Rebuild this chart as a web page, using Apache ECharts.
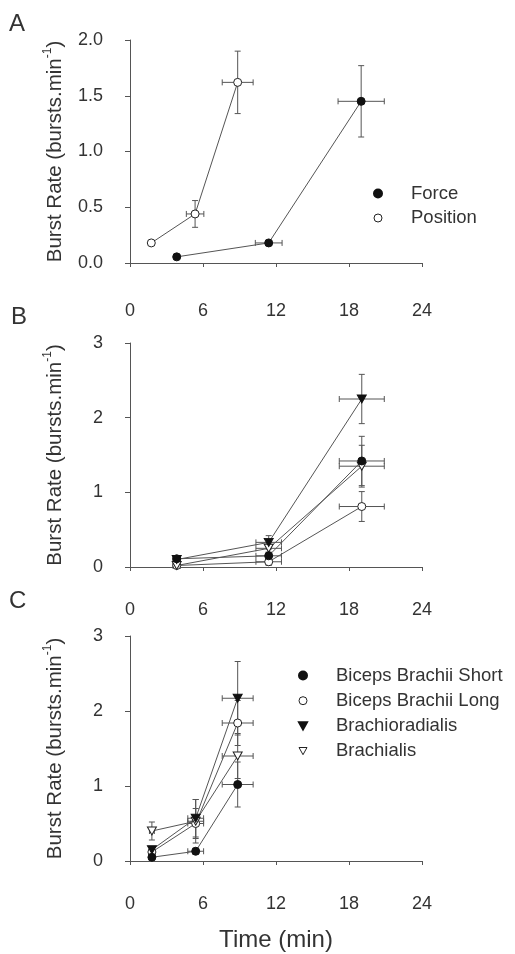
<!DOCTYPE html>
<html>
<head>
<meta charset="utf-8">
<script src="https://cdn.jsdelivr.net/npm/echarts@6/dist/echarts.min.js"></script>
<style>
html,body{margin:0;padding:0;background:#fff;}
#chart{width:515px;height:954px;}
</style>
</head>
<body>
<div id="chart"></div>
<script>
// ---------- DATA ----------
const timeTicks = [0, 6, 12, 18, 24];
const panelLabels = ['A', 'B', 'C'];

// Panel A
const forceTime = [3.84, 11.4, 19.0];
const forceTimeErr = [0, 1.1, 1.9];
const forceRate = [0.055, 0.18, 1.45];
const forceRateErr = [0, 0.02, 0.32];
const positionTime = [1.75, 5.35, 8.85];
const positionTimeErr = [0, 0.72, 1.27];
const positionRate = [0.18, 0.44, 1.62];
const positionRateErr = [0.02, 0.12, 0.28];

// Panel B (force task)
const bTime = [3.84, 11.4, 19.05];
const bTimeErr = [0.3, 1.05, 1.85];
const bShort = [0.11, 0.15, 1.42];
const bShortErr = [0.02, 0.05, 0.33];
const bLong = [0.02, 0.07, 0.81];
const bLongErr = [0.01, 0.05, 0.2];
const bBrachiorad = [0.10, 0.33, 2.25];
const bBrachioradErr = [0.02, 0.09, 0.33];
const bBrachialis = [0.02, 0.25, 1.35];
const bBrachialisErr = [0.01, 0.07, 0.28];

// Panel C (position task)
const cTime = [1.8, 5.4, 8.85];
const cTimeErr = [0.2, 0.65, 1.27];
const cShort = [0.05, 0.13, 1.02];
const cShortErr = [0.03, 0.04, 0.3];
const cLong = [0.12, 0.5, 1.84];
const cLongErr = [0.04, 0.2, 0.3];
const cBrachiorad = [0.15, 0.57, 2.17];
const cBrachioradErr = [0.04, 0.25, 0.49];
const cBrachialis = [0.40, 0.53, 1.40];
const cBrachialisErr = [0.12, 0.29, 0.3];

const muscleNames = ['Biceps Brachii Short', 'Biceps Brachii Long', 'Brachioradialis', 'Brachialis'];

// ---------- STYLE ----------
const FONT = 'Liberation Sans, Arial, Helvetica, sans-serif';
const TXT = '#333';
const AX = '#555';
const LINE = '#555';
const DOWN_TRI = 'path://M0,0 L10,0 L5,9 Z';

const grids = [
  {left: 130, width: 292, top: 40, height: 223},
  {left: 130, width: 292, top: 343, height: 224},
  {left: 130, width: 292, top: 636, height: 225}
];
const xOffsets = [20, 15, 15];

function pairs(xs, ys) { return xs.map((x, i) => [x, ys[i]]); }
function errData(xs, xe, ys, ye) { return xs.map((x, i) => [x, ys[i], xe[i], ye[i]]); }

function errRender(params, api) {
  const x = api.value(0), y = api.value(1), xe = api.value(2), ye = api.value(3);
  const c = api.coord([x, y]);
  const cap = 3;
  const st = {stroke: LINE, lineWidth: 1, fill: null};
  const kids = [];
  const ln = (x1, y1, x2, y2) => ({type: 'line', shape: {x1, y1, x2, y2}, style: st});
  if (ye > 0) {
    const t = api.coord([x, y + ye]), b = api.coord([x, y - ye]);
    kids.push(ln(c[0], t[1], c[0], b[1]));
    kids.push(ln(c[0] - cap, t[1], c[0] + cap, t[1]));
    kids.push(ln(c[0] - cap, b[1], c[0] + cap, b[1]));
  }
  if (xe > 0) {
    const l = api.coord([x - xe, y]), r = api.coord([x + xe, y]);
    kids.push(ln(l[0], c[1], r[0], c[1]));
    kids.push(ln(l[0], c[1] - cap, l[0], c[1] + cap));
    kids.push(ln(r[0], c[1] - cap, r[0], c[1] + cap));
  }
  return {type: 'group', children: kids};
}

const styles = {
  filledCircle: {symbol: 'circle', symbolSize: 8, itemStyle: {color: '#111', borderColor: '#111', borderWidth: 1}},
  openCircle: {symbol: 'circle', symbolSize: 8, itemStyle: {color: '#fff', borderColor: '#222', borderWidth: 1}},
  filledTri: {symbol: DOWN_TRI, symbolSize: [9, 8], itemStyle: {color: '#111', borderColor: '#111', borderWidth: 1}},
  openTri: {symbol: DOWN_TRI, symbolSize: [9, 8], itemStyle: {color: '#fff', borderColor: '#222', borderWidth: 1}}
};

const series = [];
function addSeries(name, gi, xs, xe, ys, ye, st) {
  series.push({
    type: 'custom', name: name + ' err', xAxisIndex: gi, yAxisIndex: gi,
    renderItem: errRender, data: errData(xs, xe, ys, ye), z: 1, silent: true, clip: false
  });
  series.push(Object.assign({
    type: 'line', name: name, xAxisIndex: gi, yAxisIndex: gi,
    data: pairs(xs, ys), z: 3, showAllSymbol: true,
    lineStyle: {color: LINE, width: 1}, emphasis: {disabled: true}
  }, JSON.parse(JSON.stringify(st))));
}

addSeries('Force', 0, forceTime, forceTimeErr, forceRate, forceRateErr, styles.filledCircle);
addSeries('Position', 0, positionTime, positionTimeErr, positionRate, positionRateErr, styles.openCircle);

addSeries(muscleNames[1], 1, bTime, bTimeErr, bLong, bLongErr, styles.openCircle);
addSeries(muscleNames[3], 1, bTime, bTimeErr, bBrachialis, bBrachialisErr, styles.openTri);
addSeries(muscleNames[0], 1, bTime, bTimeErr, bShort, bShortErr, styles.filledCircle);
addSeries(muscleNames[2], 1, bTime, bTimeErr, bBrachiorad, bBrachioradErr, styles.filledTri);

addSeries(muscleNames[1], 2, cTime, cTimeErr, cLong, cLongErr, styles.openCircle);
addSeries(muscleNames[3], 2, cTime, cTimeErr, cBrachialis, cBrachialisErr, styles.openTri);
addSeries(muscleNames[0], 2, cTime, cTimeErr, cShort, cShortErr, styles.filledCircle);
addSeries(muscleNames[2], 2, cTime, cTimeErr, cBrachiorad, cBrachioradErr, styles.filledTri);

const yTitle = '{a|Burst Rate (bursts.min}{s|-1}{a|)}';
const yRich = {
  a: {fontSize: 20.5, fontFamily: FONT, color: TXT, lineHeight: 24, verticalAlign: 'bottom'},
  s: {fontSize: 12, fontFamily: FONT, color: TXT, lineHeight: 24, verticalAlign: 'top', padding: [0, 0, 8, 0]}
};

const yMax = [2, 3, 3];
const yInt = [0.5, 1, 1];

const xAxes = grids.map((g, i) => ({
  type: 'value', gridIndex: i, min: 0, max: 24, interval: 6, offset: xOffsets[i],
  axisLine: {show: true, lineStyle: {color: AX, width: 1}},
  axisTick: {show: true, length: 4, lineStyle: {color: AX}},
  splitLine: {show: false},
  axisLabel: {fontSize: 18, fontFamily: FONT, color: TXT, margin: 19},
  name: i === 2 ? 'Time (min)' : '', nameLocation: 'middle', nameGap: 52,
  nameTextStyle: {fontSize: 24, fontFamily: FONT, color: TXT}
}));

const yAxes = grids.map((g, i) => ({
  type: 'value', gridIndex: i, min: 0, max: yMax[i], interval: yInt[i], offset: 12,
  axisLine: {show: true, lineStyle: {color: AX, width: 1}},
  axisTick: {show: true, length: 5, lineStyle: {color: AX}},
  splitLine: {show: false},
  axisLabel: {fontSize: 18, fontFamily: FONT, color: TXT, margin: 15,
    formatter: v => i === 0 ? v.toFixed(1) : String(v)},
  name: yTitle, nameLocation: 'middle', nameGap: 52, nameRotate: 90,
  nameTextStyle: {rich: yRich}
}));

const legendText = {fontSize: 18.5, fontFamily: FONT, color: TXT, padding: [0, 0, 0, 24]};
const legends = [
  {
    left: 373, top: 184, padding: 0, orient: 'vertical', itemWidth: 8, itemHeight: 8, itemGap: 5.5,
    textStyle: legendText, selectedMode: false,
    data: [
      {name: 'Force', icon: 'circle', itemStyle: {color: '#111', borderColor: '#111'}},
      {name: 'Position', icon: 'circle', itemStyle: {color: '#fff', borderColor: '#222', borderWidth: 1}}
    ]
  },
  {
    left: 298, top: 666, padding: 0, orient: 'vertical', itemWidth: 8, itemHeight: 8, itemGap: 6.2,
    textStyle: legendText, selectedMode: false,
    data: [
      {name: muscleNames[0], icon: 'circle', itemStyle: {color: '#111', borderColor: '#111'}},
      {name: muscleNames[1], icon: 'circle', itemStyle: {color: '#fff', borderColor: '#222', borderWidth: 1}},
      {name: muscleNames[2], icon: DOWN_TRI, itemStyle: {color: '#111', borderColor: '#111'}},
      {name: muscleNames[3], icon: DOWN_TRI, itemStyle: {color: '#fff', borderColor: '#222', borderWidth: 1}}
    ]
  }
];

const labelPos = [[9, 12], [11, 305], [9, 589]];
const graphic = panelLabels.map((t, i) => ({
  type: 'text', left: labelPos[i][0], top: labelPos[i][1],
  style: {text: t, fontSize: 24, fontFamily: FONT, fill: TXT}
}));

const chart = echarts.init(document.getElementById('chart'), null, {renderer: 'canvas'});
chart.setOption({
  animation: false,
  backgroundColor: '#fff',
  grid: grids,
  xAxis: xAxes,
  yAxis: yAxes,
  legend: legends,
  graphic: graphic,
  series: series
});
</script>
</body>
</html>
